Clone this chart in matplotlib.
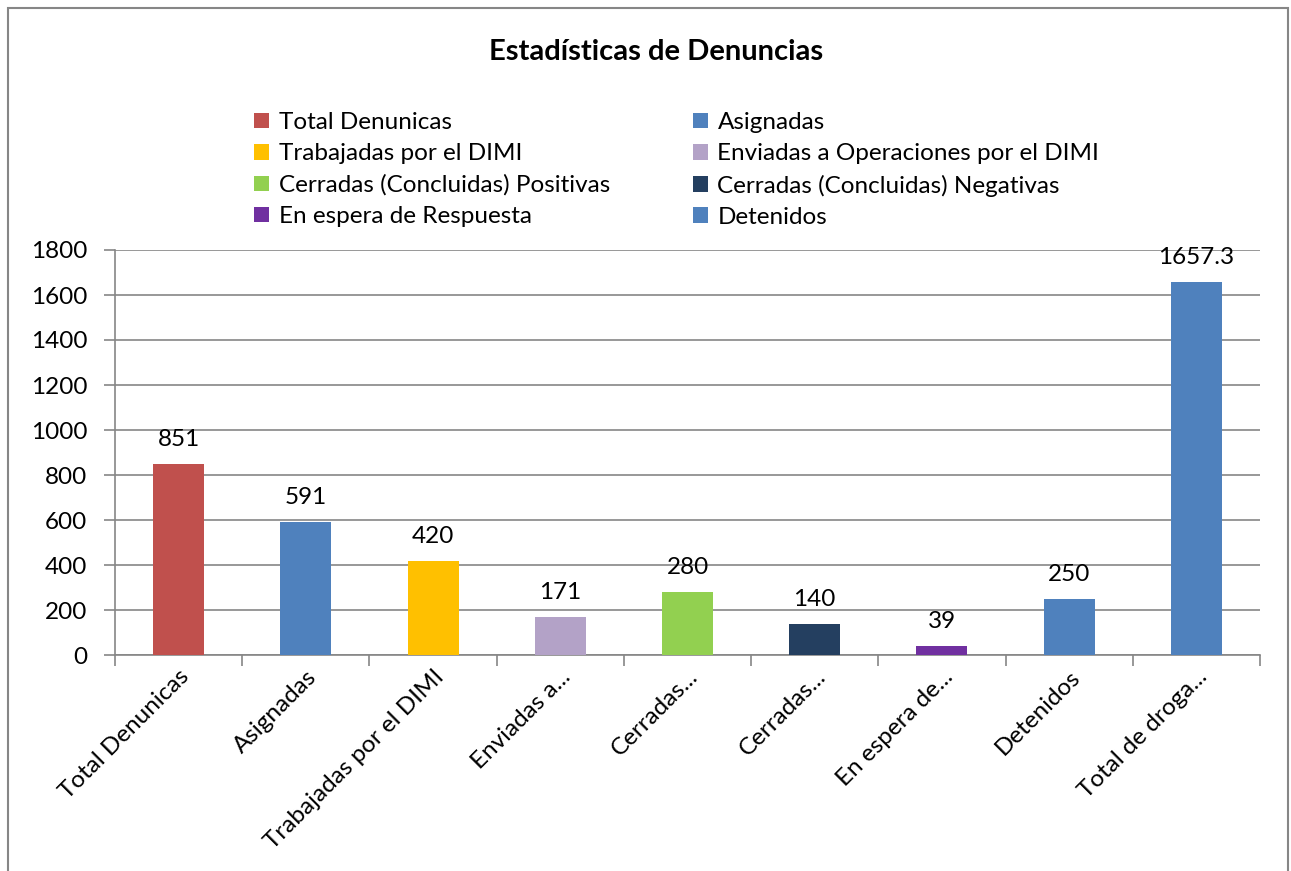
import matplotlib.pyplot as plt
from matplotlib.patches import Patch, Rectangle

plt.rcParams['font.family'] = ['Lato', 'DejaVu Sans']

# datos
categorias = ["Total Denunicas", "Asignadas", "Trabajadas por el DIMI", "Enviadas a...",
              "Cerradas...", "Cerradas...", "En espera de...", "Detenidos", "Total de droga..."]
valores = [851, 591, 420, 171, 280, 140, 39, 250, 1657.3]
etiquetas = ["851", "591", "420", "171", "280", "140", "39", "250", "1657.3"]
leyenda = ["Total Denunicas", "Asignadas", "Trabajadas por el DIMI",
           "Enviadas a Operaciones por el DIMI", "Cerradas (Concluidas) Positivas",
           "Cerradas (Concluidas) Negativas", "En espera de Respuesta", "Detenidos"]
colores = ["#C0504D", "#4F81BD", "#FFC000", "#B3A2C7", "#92D050",
           "#243F60", "#7030A0", "#4F81BD", "#4F81BD"]

W, H = 1291, 871
fig = plt.figure(figsize=(W / 100, H / 100), dpi=100)
fig.patch.set_facecolor('white')

# marco del gráfico
fig.add_artist(Rectangle((8 / W, -0.05), (1288 - 8) / W, 1 - 8 / H + 0.05,
                         transform=fig.transFigure, fill=False,
                         edgecolor='#868686', linewidth=1.5))

ax = fig.add_axes([115 / W, 1 - 655 / H, (1260 - 115) / W, (655 - 250) / H])
x = list(range(len(categorias)))
ax.bar(x, valores, width=0.4, color=colores, zorder=3)
ax.set_xlim(-0.5, len(categorias) - 0.5)
ax.set_ylim(0, 1800)
ax.set_yticks(range(0, 1801, 200))
ax.yaxis.grid(True, color='#868686', linewidth=1.2, zorder=0)

for xi, v, t in zip(x, valores, etiquetas):
    ax.annotate(t, (xi, v), xytext=(0, 10), textcoords='offset points',
                ha='center', va='bottom', fontsize=17.5)

ax.set_xticks([i - 0.5 for i in range(len(categorias) + 1)], minor=False)
ax.set_xticklabels([])
ax.set_xticks(x, minor=True)
ax.set_xticklabels(categorias, minor=True, rotation=45, ha='right',
                   rotation_mode='anchor', fontsize=17.5)
ax.tick_params(axis='x', which='minor', length=0, pad=8)
ax.tick_params(axis='x', which='major', length=8, width=1.2, color='#868686')
ax.tick_params(axis='y', length=8, width=1.2, color='#868686', labelsize=17.5, pad=12)

for s in ['top', 'right']:
    ax.spines[s].set_visible(False)
for s in ['left', 'bottom']:
    ax.spines[s].set_color('#868686')
    ax.spines[s].set_linewidth(1.2)

# leyenda en orden por filas
handles = [Patch(facecolor=c) for c in colores[:8]]
orden = [0, 2, 4, 6, 1, 3, 5, 7]
fig.legend([handles[i] for i in orden], [leyenda[i] for i in orden],
           ncol=2, loc='upper left', bbox_to_anchor=(254 / W, 1 - 112 / H),
           frameon=False, fontsize=17.5, handlelength=0.62, handleheight=0.62,
           handletextpad=0.4, columnspacing=3.4, labelspacing=0.42,
           borderpad=0, borderaxespad=0)

fig.text(656 / W, 1 - 52 / H, "Estadísticas de Denuncias", ha='center', va='center',
         fontsize=21, fontweight='bold')

fig.savefig("out.png", dpi=100, facecolor='white')
